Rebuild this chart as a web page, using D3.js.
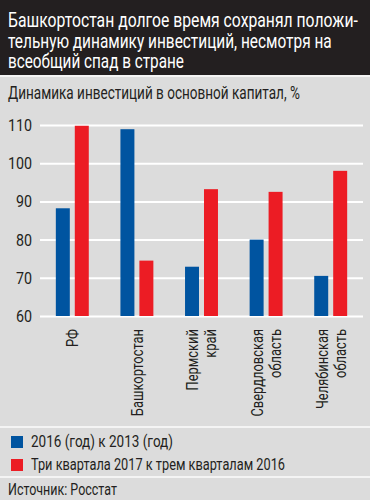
<!DOCTYPE html>
<html>
<head>
<meta charset="utf-8">
<script src="https://cdn.jsdelivr.net/npm/d3@7"></script>
<style>
  body { margin: 0; background: #dcdcdc; }
  text { font-family: Roboto, "Noto Sans", sans-serif; }
</style>
</head>
<body>
<svg width="370" height="500"></svg>
<script>
// data
var titleLines = ["Башкортостан долгое время сохранял положи-",
                  "тельную динамику инвестиций, несмотря на",
                  "всеобщий спад в стране"];
var subtitle = "Динамика инвестиций в основной капитал, %";
var regions = ["РФ", "Башкортостан", "Пермский\nкрай", "Свердловская\nобласть", "Челябинская\nобласть"];
var series2016 = [88.2, 108.9, 72.9, 80.0, 70.5];
var series2017 = [109.8, 74.5, 93.2, 92.5, 98.0];
var seriesNames = ["2016 (год) к 2013 (год)", "Три квартала 2017 к трем кварталам 2016"];
var yTicks = [60, 70, 80, 90, 100, 110];
var source = "Источник: Росстат";

var colors = ["#0054a0", "#ec1c24"];
var ink = "#231f20";

var svg = d3.select("svg");

// the original uses a condensed face, so squeeze text horizontally
function condense(el, k, pre) {
    var s = d3.select(el);
    var x = +s.attr("x") || 0, y = +s.attr("y") || 0;
    s.attr("x", 0).attr("y", 0)
     .attr("transform", (pre || "") + " translate(" + x + "," + y + ") scale(" + k + ",1)");
}
function fitTo(el, w) {
    condense(el, w / el.getComputedTextLength());
}

// background
svg.append("rect").attr("width", 370).attr("height", 500).attr("fill", "#dcdcdc");
svg.append("rect").attr("width", 370).attr("height", 75).attr("fill", ink);
svg.append("line").attr("x1", 0).attr("x2", 370).attr("y1", 76).attr("y2", 76)
    .attr("stroke", "#f4f4f4").attr("stroke-width", 2);

// title
var titleWidths = [350, 324, 176];
svg.append("g").selectAll("text")
    .data(titleLines)
  .enter().append("text")
    .attr("x", 8)
    .attr("y", function(d, i) { return 27 + i * 20.5; })
    .attr("fill", "#fff")
    .style("font-size", "21px")
    .text(function(d) { return d; })
    .each(function(d, i) { fitTo(this, titleWidths[i]); });

fitTo(svg.append("text")
    .attr("x", 8).attr("y", 99)
    .attr("fill", ink)
    .style("font-size", "18px")
    .text(subtitle).node(), 292);

// scales
var y = d3.scaleLinear().domain([60, 110]).range([316, 125]);

var x0 = d3.scaleBand()
    .domain(regions)
    .range([40, 363])
    .paddingInner(0.49)
    .paddingOuter(0.245);

var x1 = d3.scaleBand()
    .domain([0, 1])
    .range([0, x0.bandwidth()])
    .paddingInner(0.263);

// grid + y labels
var yAxis = svg.append("g")
    .attr("transform", "translate(40,0)")
    .call(d3.axisLeft(y).tickValues(yTicks).tickSize(-323).tickPadding(8));
yAxis.select(".domain").remove();
yAxis.selectAll(".tick line").attr("stroke", "#fff").attr("stroke-width", 2);
yAxis.selectAll(".tick text")
    .attr("fill", ink)
    .style("font-size", "17px")
    .style("font-family", "Roboto, sans-serif")
    .each(function() { condense(this, 0.84); });

// bars
var rows = regions.map(function(r, i) { return {region: r, values: [series2016[i], series2017[i]]}; });

var groups = svg.append("g").selectAll("g")
    .data(rows)
  .enter().append("g")
    .attr("transform", function(d) { return "translate(" + x0(d.region) + ",0)"; });

groups.selectAll("rect")
    .data(function(d) { return d.values; })
  .enter().append("rect")
    .attr("x", function(d, i) { return x1(i); })
    .attr("width", x1.bandwidth())
    .attr("y", function(d) { return y(d); })
    .attr("height", function(d) { return y(60) - y(d); })
    .attr("fill", function(d, i) { return colors[i]; });

// category labels, rotated
var xAxis = svg.append("g")
    .attr("transform", "translate(0,316)")
    .call(d3.axisBottom(x0).tickSize(0));
xAxis.select(".domain").remove();
xAxis.selectAll(".tick text").each(function(d) {
    var lines = d.split("\n");
    var t = d3.select(this);
    lines.forEach(function(l, i) {
        var tx = t.clone().text(l)
            .attr("text-anchor", "end")
            .attr("fill", ink)
            .attr("x", -13)
            .attr("y", (i - (lines.length - 1) / 2) * 18)
            .attr("dy", "0.35em")
            .style("font-size", "17px")
            .style("font-family", "Roboto, sans-serif");
        condense(tx.node(), 0.76, "rotate(-90)");
    });
    t.remove();
});

// legend
svg.append("line").attr("x1", 0).attr("x2", 370).attr("y1", 427).attr("y2", 427)
    .attr("stroke", "#f4f4f4").attr("stroke-width", 2);
svg.append("line").attr("x1", 0).attr("x2", 370).attr("y1", 477).attr("y2", 477)
    .attr("stroke", "#f4f4f4").attr("stroke-width", 2);

var legendWidths = [142, 254];
var legend = svg.append("g").selectAll("g")
    .data(seriesNames)
  .enter().append("g")
    .attr("transform", function(d, i) { return "translate(11," + (436 + i * 23) + ")"; });
legend.append("rect")
    .attr("width", 12).attr("height", 12)
    .attr("fill", function(d, i) { return colors[i]; });
legend.append("text")
    .attr("x", 20).attr("y", 11)
    .attr("fill", ink)
    .style("font-size", "16.5px")
    .text(function(d) { return d; })
    .each(function(d, i) { fitTo(this, legendWidths[i]); });

fitTo(svg.append("text")
    .attr("x", 8).attr("y", 495)
    .attr("fill", ink)
    .style("font-size", "16.5px")
    .text(source).node(), 109);
</script>
</body>
</html>
